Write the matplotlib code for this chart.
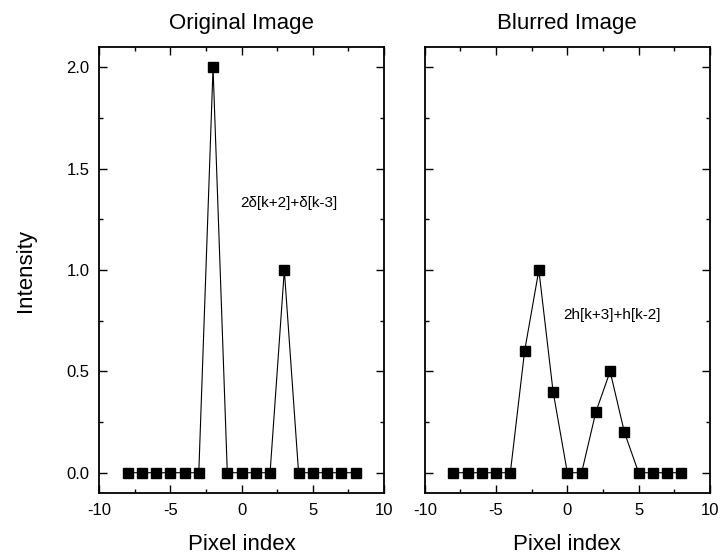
import numpy as np
import matplotlib
matplotlib.use("Agg")
import matplotlib.pyplot as plt
from matplotlib.ticker import MultipleLocator, FormatStrFormatter

plt.rcParams["font.family"] = ["Liberation Sans", "DejaVu Sans"]
plt.rcParams["axes.unicode_minus"] = False

# pixel index k = -8 .. 8
pixel_index = list(range(-8, 9))
original = [0, 0, 0, 0, 0, 0, 2.0, 0, 0, 0, 0, 1.0, 0, 0, 0, 0, 0]
blurred = [0, 0, 0, 0, 0, 0.6, 1.0, 0.4, 0, 0, 0.3, 0.5, 0.2, 0, 0, 0, 0]

titles = ["Original Image", "Blurred Image"]
formulas = ["2δ[k+2]+δ[k-3]", "2h[k+3]+h[k-2]"]
formula_pos = [(-0.1, 1.33), (-0.3, 0.78)]

fig = plt.figure(figsize=(7.2, 5.58), dpi=100)
ax1 = fig.add_axes([0.1375, 0.1165, 0.396, 0.799])
ax2 = fig.add_axes([0.590, 0.1165, 0.396, 0.799])

for ax, y, title, txt, pos in zip([ax1, ax2], [original, blurred], titles, formulas, formula_pos):
    ax.plot(pixel_index, y, color="black", linewidth=0.8, marker="s",
            markersize=7, markerfacecolor="black", markeredgecolor="black")
    ax.set_xlim(-10, 10)
    ax.set_ylim(-0.1, 2.1)
    ax.xaxis.set_major_locator(MultipleLocator(5))
    ax.xaxis.set_minor_locator(MultipleLocator(2.5))
    ax.yaxis.set_major_locator(MultipleLocator(0.5))
    ax.yaxis.set_minor_locator(MultipleLocator(0.25))
    ax.tick_params(which="both", direction="in", top=True, right=True, width=1.0)
    ax.tick_params(which="major", length=6, labelsize=12, pad=7)
    ax.tick_params(which="minor", length=3)
    for s in ax.spines.values():
        s.set_linewidth(1.3)
    ax.set_title(title, fontsize=16, pad=13)
    ax.set_xlabel("Pixel index", fontsize=16, labelpad=12)
    ax.text(pos[0], pos[1], txt, fontsize=11, va="center", ha="left")

ax1.yaxis.set_major_formatter(FormatStrFormatter("%.1f"))
ax1.set_ylabel("Intensity", fontsize=16, labelpad=22)
ax2.tick_params(labelleft=False)

fig.savefig("out.png", dpi=100)
